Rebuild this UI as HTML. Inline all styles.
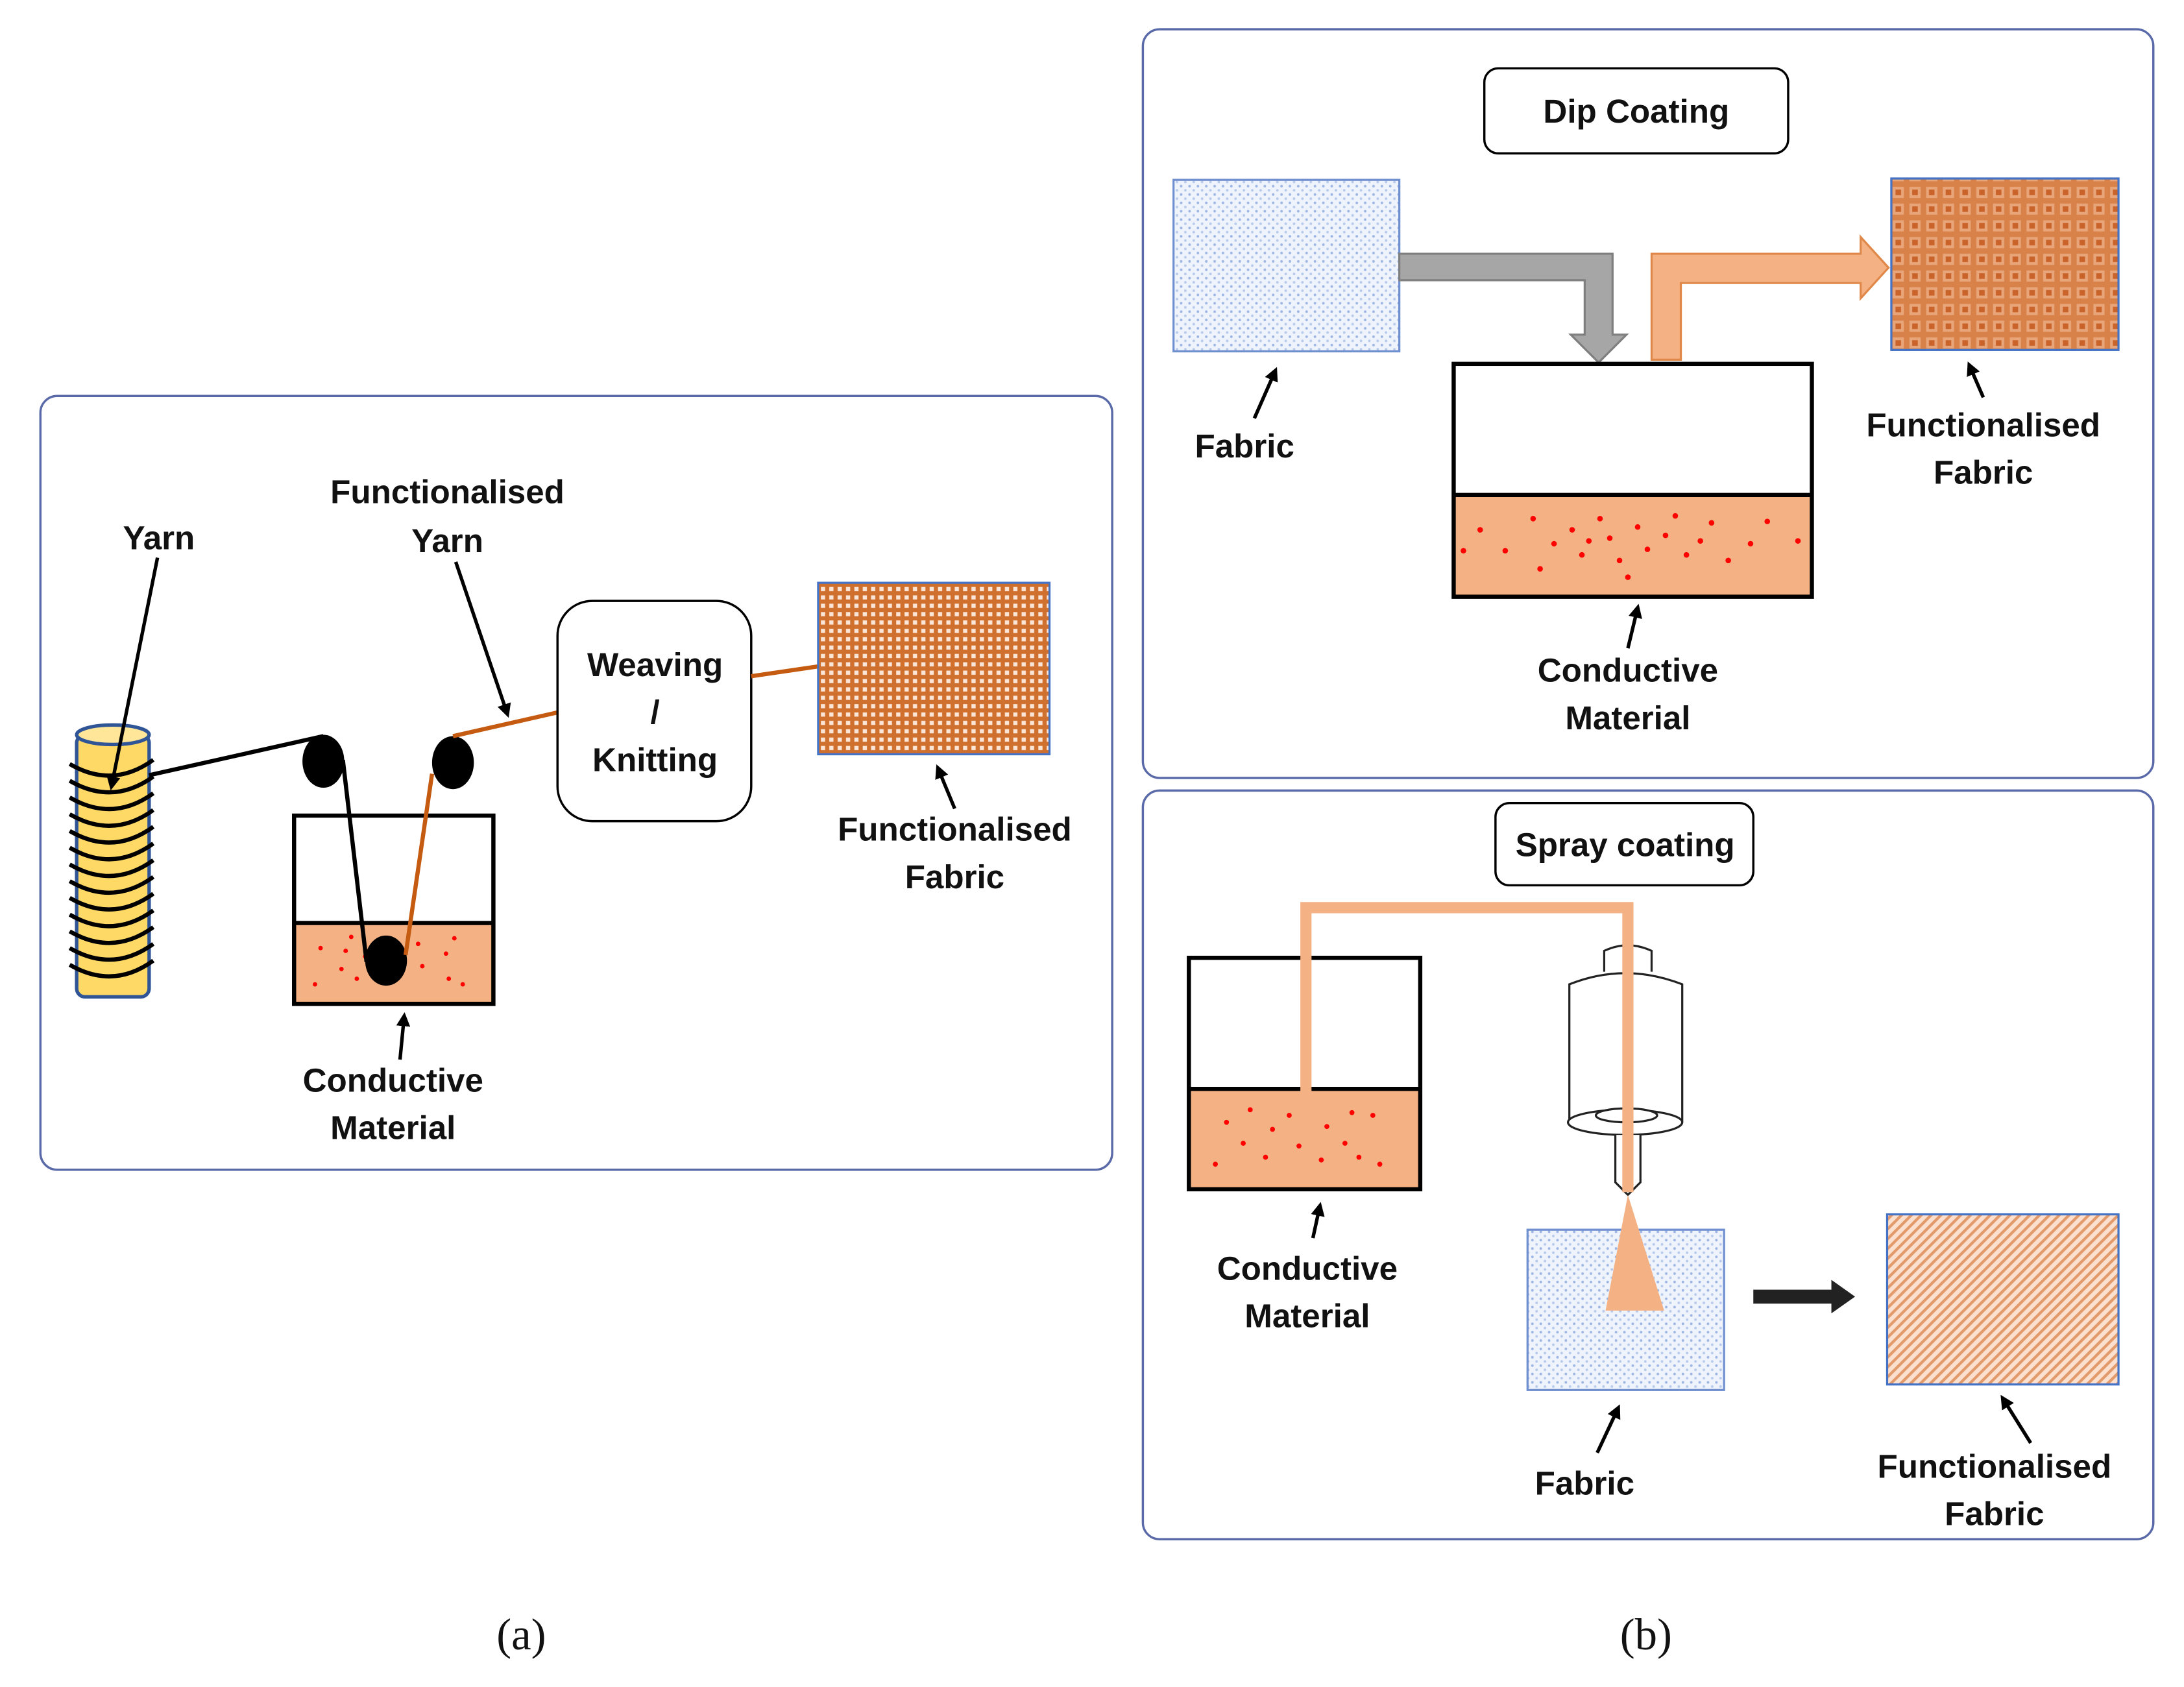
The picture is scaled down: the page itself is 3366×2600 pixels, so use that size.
<!DOCTYPE html>
<html><head><meta charset="utf-8"><style>
html,body{margin:0;padding:0;background:#fff;}
svg{display:block;}
text{font-family:"Liberation Sans",sans-serif;font-weight:bold;font-size:23.8px;fill:#111;text-anchor:middle;}
.lab{font-family:"Liberation Serif",serif;font-weight:normal;font-size:32px;}
</style></head><body>
<svg width="3366" height="2600" viewBox="0 0 1567 1210" preserveAspectRatio="none" xmlns="http://www.w3.org/2000/svg">
<defs>
<pattern id="blue" width="6" height="6" patternUnits="userSpaceOnUse">
<rect width="6" height="6" fill="#eef3fc"/><circle cx="1.5" cy="1.5" r="0.9" fill="#9db5e3"/><circle cx="4.5" cy="4.5" r="0.9" fill="#b8caeb"/></pattern>
<pattern id="dip" width="12" height="12" patternUnits="userSpaceOnUse">
<rect width="12" height="12" fill="#d8824a"/><rect x="2" y="2" width="8" height="8" fill="#e9a57a"/><rect x="4" y="4" width="4" height="4" fill="#c9632a"/></pattern>
<pattern id="knit" width="6" height="6" patternUnits="userSpaceOnUse">
<rect width="6" height="6" fill="#d0702f"/><rect x="1" y="1" width="3" height="3" fill="#fbe5d6"/></pattern>
<pattern id="hatch" width="5" height="5" patternUnits="userSpaceOnUse" patternTransform="rotate(45)">
<rect width="5" height="5" fill="#fbe0cf"/><rect width="2" height="5" fill="#e39a6b"/></pattern>
<marker id="ah" markerWidth="10" markerHeight="10" refX="7" refY="5" orient="auto" markerUnits="userSpaceOnUse"><path d="M0,0 L10,5 L0,10 Z" fill="#000"/></marker>
</defs>

<!-- Panel a -->
<rect x="29" y="284" width="769" height="555" rx="12" fill="#fff" stroke="#5a6aa8" stroke-width="1.6"/>
<text x="114" y="394">Yarn</text>
<!-- spool -->
<rect x="55" y="527" width="52" height="188" rx="6" fill="#ffd966" stroke="#2f5597" stroke-width="2.5"/>
<ellipse cx="81" cy="527" rx="26" ry="7" fill="#ffe699" stroke="#2f5597" stroke-width="2.5"/>
<g fill="none" stroke="#000" stroke-width="3">
<path d="M50,548 Q81,566 110,545"/><path d="M50,560 Q81,578 110,557"/><path d="M50,572 Q81,590 110,569"/>
<path d="M50,584 Q81,602 110,581"/><path d="M50,596 Q81,614 110,593"/><path d="M50,608 Q81,626 110,605"/>
<path d="M50,620 Q81,638 110,617"/><path d="M50,632 Q81,650 110,629"/><path d="M50,644 Q81,662 110,641"/>
<path d="M50,656 Q81,674 110,653"/><path d="M50,668 Q81,686 110,665"/><path d="M50,680 Q81,698 110,677"/>
<path d="M50,692 Q81,710 110,689"/>
</g>
<line x1="113" y1="400" x2="80" y2="564" stroke="#000" stroke-width="2.5" marker-end="url(#ah)"/>
<line x1="107" y1="556" x2="232" y2="528" stroke="#000" stroke-width="3"/>
<!-- beaker a -->
<rect x="211" y="662" width="143" height="58" fill="#f4b183"/>
<g fill="#ff0000"><circle cx="230" cy="680" r="1.6"/><circle cx="245" cy="695" r="1.6"/><circle cx="252" cy="672" r="1.6"/><circle cx="256" cy="702" r="1.6"/><circle cx="226" cy="706" r="1.6"/><circle cx="262" cy="686" r="1.6"/><circle cx="300" cy="677" r="1.6"/><circle cx="303" cy="693" r="1.6"/><circle cx="320" cy="684" r="1.6"/><circle cx="326" cy="673" r="1.6"/><circle cx="322" cy="702" r="1.6"/><circle cx="332" cy="706" r="1.6"/><circle cx="248" cy="682" r="1.6"/></g>
<rect x="211" y="585" width="143" height="135" fill="none" stroke="#000" stroke-width="3"/>
<line x1="211" y1="662" x2="354" y2="662" stroke="#000" stroke-width="3"/>
<ellipse cx="232" cy="546" rx="15" ry="19" fill="#000"/>
<ellipse cx="325" cy="547" rx="15" ry="19" fill="#000"/>
<ellipse cx="277" cy="689" rx="15" ry="18" fill="#000"/>
<line x1="246" y1="545" x2="263" y2="690" stroke="#000" stroke-width="3"/>
<line x1="310" y1="555" x2="291" y2="685" stroke="#c55a11" stroke-width="3"/>
<line x1="325" y1="528" x2="400" y2="511" stroke="#c55a11" stroke-width="3"/>
<text x="321" y="361">Functionalised</text>
<text x="321" y="396">Yarn</text>
<line x1="327" y1="403" x2="364" y2="512" stroke="#000" stroke-width="2.5" marker-end="url(#ah)"/>
<rect x="400" y="431" width="139" height="158" rx="25" fill="#fff" stroke="#000" stroke-width="1.6"/>
<text x="470" y="485">Weaving</text>
<text x="470" y="519">/</text>
<text x="470" y="553">Knitting</text>
<line x1="539" y1="485" x2="587" y2="478" stroke="#c55a11" stroke-width="3"/>
<rect x="587" y="418" width="166" height="123" fill="url(#knit)" stroke="#4472c4" stroke-width="1.5"/>
<line x1="685" y1="580" x2="673" y2="551" stroke="#000" stroke-width="2.5" marker-end="url(#ah)"/>
<text x="685" y="603">Functionalised</text>
<text x="685" y="637">Fabric</text>
<line x1="287" y1="760" x2="290" y2="729" stroke="#000" stroke-width="2.5" marker-end="url(#ah)"/>
<text x="282" y="783">Conductive</text>
<text x="282" y="817">Material</text>

<!-- Panel b top -->
<rect x="820" y="21" width="725" height="537" rx="12" fill="#fff" stroke="#5a6aa8" stroke-width="1.6"/>
<rect x="1065" y="49" width="218" height="61" rx="10" fill="#fff" stroke="#000" stroke-width="1.6"/>
<text x="1174" y="88">Dip Coating</text>
<rect x="842" y="129" width="162" height="123" fill="url(#blue)" stroke="#6f8fcf" stroke-width="1.5"/>
<path d="M1004,182 L1157,182 L1157,240 L1167,240 L1147,260 L1127,240 L1137,240 L1137,201 L1004,201 Z" fill="#a6a6a6" stroke="#7f7f7f" stroke-width="1.5"/>
<path d="M1185,258 L1185,182 L1335,182 L1335,170 L1355,192 L1335,214 L1335,203 L1206,203 L1206,258 Z" fill="#f4b183" stroke="#e0884a" stroke-width="1.5"/>
<rect x="1043" y="355" width="257" height="73" fill="#f4b183"/>
<g fill="#ff0000"><circle cx="1062" cy="380" r="2"/><circle cx="1080" cy="395" r="2"/><circle cx="1100" cy="372" r="2"/><circle cx="1105" cy="408" r="2"/><circle cx="1115" cy="390" r="2"/><circle cx="1128" cy="380" r="2"/><circle cx="1135" cy="398" r="2"/><circle cx="1148" cy="372" r="2"/><circle cx="1155" cy="386" r="2"/><circle cx="1162" cy="402" r="2"/><circle cx="1168" cy="414" r="2"/><circle cx="1175" cy="378" r="2"/><circle cx="1182" cy="394" r="2"/><circle cx="1195" cy="384" r="2"/><circle cx="1202" cy="370" r="2"/><circle cx="1210" cy="398" r="2"/><circle cx="1220" cy="388" r="2"/><circle cx="1228" cy="375" r="2"/><circle cx="1240" cy="402" r="2"/><circle cx="1256" cy="390" r="2"/><circle cx="1268" cy="374" r="2"/><circle cx="1290" cy="388" r="2"/><circle cx="1050" cy="395" r="2"/><circle cx="1140" cy="388" r="2"/></g>
<rect x="1043" y="261" width="257" height="167" fill="none" stroke="#000" stroke-width="3"/>
<line x1="1043" y1="355" x2="1300" y2="355" stroke="#000" stroke-width="3"/>
<rect x="1357" y="128" width="163" height="123" fill="url(#dip)" stroke="#4472c4" stroke-width="1.5"/>
<line x1="900" y1="300" x2="915" y2="266" stroke="#000" stroke-width="2.5" marker-end="url(#ah)"/>
<text x="893" y="328">Fabric</text>
<line x1="1423" y1="285" x2="1413" y2="262" stroke="#000" stroke-width="2.5" marker-end="url(#ah)"/>
<text x="1423" y="313">Functionalised</text>
<text x="1423" y="347">Fabric</text>
<line x1="1168" y1="465" x2="1175" y2="436" stroke="#000" stroke-width="2.5" marker-end="url(#ah)"/>
<text x="1168" y="489">Conductive</text>
<text x="1168" y="523">Material</text>

<!-- Panel b bottom -->
<rect x="820" y="567" width="725" height="537" rx="12" fill="#fff" stroke="#5a6aa8" stroke-width="1.6"/>
<rect x="1073" y="576" width="185" height="59" rx="10" fill="#fff" stroke="#000" stroke-width="1.6"/>
<text x="1166" y="614">Spray coating</text>
<rect x="853" y="781" width="166" height="72" fill="#f4b183"/>
<g fill="#ff0000"><circle cx="872" cy="835" r="1.8"/><circle cx="880" cy="805" r="1.8"/><circle cx="892" cy="820" r="1.8"/><circle cx="897" cy="796" r="1.8"/><circle cx="908" cy="830" r="1.8"/><circle cx="913" cy="810" r="1.8"/><circle cx="925" cy="800" r="1.8"/><circle cx="932" cy="822" r="1.8"/><circle cx="948" cy="832" r="1.8"/><circle cx="952" cy="808" r="1.8"/><circle cx="965" cy="820" r="1.8"/><circle cx="975" cy="830" r="1.8"/><circle cx="985" cy="800" r="1.8"/><circle cx="990" cy="835" r="1.8"/><circle cx="970" cy="798" r="1.8"/></g>
<rect x="853" y="687" width="166" height="166" fill="none" stroke="#000" stroke-width="3"/>
<line x1="853" y1="781" x2="1019" y2="781" stroke="#000" stroke-width="3"/>
<!-- nozzle -->
<g fill="#fff" stroke="#222" stroke-width="1.5">
<path d="M1151,697 L1151,682 Q1168,674 1185,682 L1185,697"/>
<path d="M1126,805 L1126,706 Q1166,690 1207,706 L1207,805"/>
<ellipse cx="1166" cy="805" rx="41" ry="9"/>
<ellipse cx="1167" cy="800" rx="22" ry="5"/>
<path d="M1159,814 L1159,848 L1168,857 L1177,848 L1177,814"/>
</g>
<path d="M937,786 L937,651 L1168,651 L1168,855" fill="none" stroke="#f4b183" stroke-width="8"/>
<rect x="1096" y="882" width="141" height="115" fill="url(#blue)" stroke="#6f8fcf" stroke-width="1.5"/>
<path d="M1168,857 L1194,940 L1152,940 Z" fill="#f4b183"/>
<path d="M1258,925 L1314,925 L1314,918 L1331,930 L1314,942 L1314,935 L1258,935 Z" fill="#222"/>
<rect x="1354" y="871" width="166" height="122" fill="url(#hatch)" stroke="#4472c4" stroke-width="1.5"/>
<line x1="942" y1="888" x2="947" y2="865" stroke="#000" stroke-width="2.5" marker-end="url(#ah)"/>
<text x="938" y="918">Conductive</text>
<text x="938" y="952">Material</text>
<line x1="1146" y1="1042" x2="1161" y2="1010" stroke="#000" stroke-width="2.5" marker-end="url(#ah)"/>
<text x="1137" y="1072">Fabric</text>
<line x1="1457" y1="1035" x2="1437" y2="1003" stroke="#000" stroke-width="2.5" marker-end="url(#ah)"/>
<text x="1431" y="1060">Functionalised</text>
<text x="1431" y="1094">Fabric</text>

<text class="lab" x="374" y="1183">(a)</text>
<text class="lab" x="1181" y="1183">(b)</text>
</svg>
</body></html>
